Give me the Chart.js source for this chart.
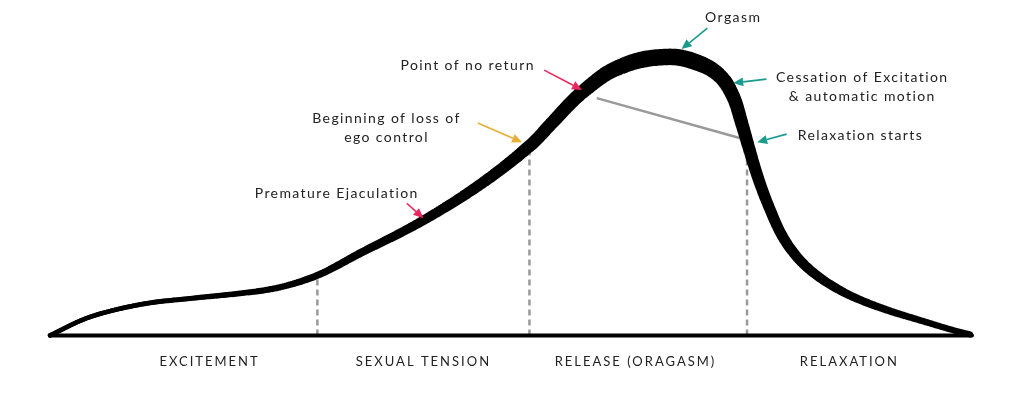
<!DOCTYPE html>
<html>
<head>
<meta charset="utf-8">
<script src="https://cdn.jsdelivr.net/npm/chart.js@4.4.1/dist/chart.umd.min.js"></script>
<style>
  html, body { margin: 0; padding: 0; background: #fff; }
  #wrap { width: 1024px; height: 408px; }
</style>
</head>
<body>
<div id="wrap"><canvas id="curva"></canvas></div>
<script>
// Fases (etiquetas del eje x) y dónde van centradas
const FASES = ['EXCITEMENT', 'SEXUAL TENSION', 'RELEASE (ORAGASM)', 'RELAXATION'];
const FASES_CENTRO = [17.3, 40.5, 63.5, 86.7];

// Límites entre fases: x del límite y altura de la curva en ese punto
const LIMITES_X = [29, 52, 75.6];
const LIMITES_Y = [20, 62, 65];

// Curva de respuesta: tiempo (0-100) vs intensidad (0-100)
const CURVA_X = [0, 4.3, 9.8, 15.2, 20.6, 24.9, 29, 33.6, 40.5, 47, 52.1, 54.6, 57.8, 61.8, 66.9, 70.5, 72.7, 74.1, 75.05, 75.9, 76.9, 78.0, 79.7, 82.1, 85.7, 90, 94.4, 98, 99.8];
const CURVA_Y = [0, 6.1, 10.3, 12.3, 14, 16, 20, 27.3, 38.3, 51, 63.3, 71.3, 81.2, 89.4, 92.7, 90.5, 86.3, 79.7, 70.7, 61.7, 51.7, 42.7, 31.7, 22.7, 15, 9.3, 5, 1.7, 0.3];

// Recta gris "punto de no retorno" -> "comienza la relajación"
const ATAJO_X = [59.3, 74.8];
const ATAJO_Y = [79, 65.7];

const TEAL = '#1a9b8e';
const ROSA = '#e8285e';
const ORO = '#e8ae3a';
const TEXTO = '#222';

// Anotaciones (en unidades de los ejes): texto + flecha desde/hasta
const ANOTACIONES = [
  { lineas: ['Orgasm'], x: 74.1, y: 105.7, desde: [71.3, 102.3], hasta: [68.5, 95.3], color: TEAL },
  { lineas: ['Cessation of Excitation', '& automatic motion'], x: 88.1, y: 86, desde: [77.7, 85.3], hasta: [74.1, 84], color: TEAL },
  { lineas: ['Relaxation starts'], x: 87.9, y: 66.7, desde: [79.9, 67], hasta: [76.7, 64.3], color: TEAL },
  { lineas: ['Point of no return'], x: 45.3, y: 90, desde: [53.6, 88.3], hasta: [57.7, 81.7], color: ROSA },
  { lineas: ['Beginning of loss of', 'ego control'], x: 36.5, y: 72.3, desde: [46.4, 70.7], hasta: [51.2, 64.3], color: ORO },
  { lineas: ['Premature Ejaculation'], x: 31.1, y: 47.3, desde: [38.7, 44], hasta: [40.5, 39], color: ROSA },
];

// Grosor del trazo según x (más grueso cerca del orgasmo)
const GROSOR = [[0, 4.5], [15, 5], [29, 7], [40, 9.5], [50, 12], [58, 14], [64, 16.5], [70, 16.5], [74, 14], [77, 11.5], [82, 10], [88, 8], [95, 6.5], [100, 6]];
function grosorEn(x) {
  if (x <= GROSOR[0][0]) return GROSOR[0][1];
  for (let i = 1; i < GROSOR.length; i++) {
    const [x0, w0] = GROSOR[i - 1];
    const [x1, w1] = GROSOR[i];
    if (x <= x1) return w0 + (w1 - w0) * (x - x0) / (x1 - x0);
  }
  return GROSOR[GROSOR.length - 1][1];
}

const zip = (xs, ys) => xs.map((x, i) => ({ x, y: ys[i] }));

const datasets = [
  {
    label: 'curva',
    data: zip(CURVA_X, CURVA_Y),
    borderColor: '#000',
    borderWidth: 4.5,
    borderCapStyle: 'round',
    borderJoinStyle: 'round',
    tension: 0.4,
    pointRadius: 0,
    clip: false,
    order: 0,
  },
  {
    label: 'base',
    data: [{ x: 0, y: 0 }, { x: 100, y: 0 }],
    borderColor: '#000',
    borderWidth: 4,
    borderCapStyle: 'round',
    pointRadius: 0,
    clip: false,
    order: 1,
  },
  {
    label: 'atajo',
    data: zip(ATAJO_X, ATAJO_Y),
    borderColor: '#999',
    borderWidth: 2.5,
    pointRadius: 0,
    clip: false,
    order: 2,
  },
];

LIMITES_X.forEach((x, i) => {
  datasets.push({
    label: 'limite' + i,
    data: [{ x, y: 0 }, { x, y: LIMITES_Y[i] }],
    borderColor: '#9a9a9a',
    borderWidth: 2.5,
    borderDash: [6, 4],
    pointRadius: 0,
    clip: false,
    order: 3,
  });
});

// Re-traza la curva del dataset 0 en franjas verticales finas, cada una
// con su propio grosor, para que el trazo engorde de a poco.
const grosor = {
  id: 'grosor',
  afterDatasetsDraw(chart) {
    const { ctx, scales, height } = chart;
    const linea = chart.getDatasetMeta(0).dataset;
    const paso = 2;
    const desde = Math.floor(scales.x.left) - 12;
    const hasta = Math.ceil(scales.x.right) + 12;
    ctx.save();
    ctx.strokeStyle = '#000';
    ctx.lineCap = 'round';
    ctx.lineJoin = 'round';
    for (let bx = desde; bx < hasta; bx += paso) {
      ctx.save();
      ctx.beginPath();
      ctx.rect(bx, 0, paso, height);
      ctx.clip();
      ctx.lineWidth = grosorEn(scales.x.getValueForPixel(bx + paso / 2));
      ctx.beginPath();
      linea.path(ctx);
      ctx.stroke();
      ctx.restore();
    }
    ctx.restore();
  },
};

function flecha(ctx, x0, y0, x1, y1, color) {
  const ang = Math.atan2(y1 - y0, x1 - x0);
  const largo = 10, ancho = 4.5;
  const bx = x1 - Math.cos(ang) * largo;
  const by = y1 - Math.sin(ang) * largo;
  ctx.strokeStyle = color;
  ctx.fillStyle = color;
  ctx.lineWidth = 1.6;
  ctx.beginPath();
  ctx.moveTo(x0, y0);
  ctx.lineTo(bx, by);
  ctx.stroke();
  ctx.beginPath();
  ctx.moveTo(x1, y1);
  ctx.lineTo(bx + Math.sin(ang) * ancho, by - Math.cos(ang) * ancho);
  ctx.lineTo(bx - Math.sin(ang) * ancho, by + Math.cos(ang) * ancho);
  ctx.closePath();
  ctx.fill();
}

const espaciado = {
  id: 'espaciado',
  beforeDraw(chart) { chart.ctx.letterSpacing = '2px'; },
};

const anotaciones = {
  id: 'anotaciones',
  afterDatasetsDraw(chart) {
    const { ctx, scales } = chart;
    const px = (v) => scales.x.getPixelForValue(v);
    const py = (v) => scales.y.getPixelForValue(v);
    ctx.save();
    ctx.letterSpacing = '1.4px';
    ctx.font = '14px Lato, sans-serif';
    ctx.textAlign = 'center';
    ctx.textBaseline = 'middle';
    for (const a of ANOTACIONES) {
      ctx.fillStyle = TEXTO;
      a.lineas.forEach((t, i) => ctx.fillText(t, px(a.x), py(a.y) + i * 19));
      flecha(ctx, px(a.desde[0]), py(a.desde[1]), px(a.hasta[0]), py(a.hasta[1]), a.color);
    }
    ctx.restore();
  },
};

new Chart(document.getElementById('curva'), {
  type: 'line',
  data: { datasets },
  options: {
    responsive: true,
    maintainAspectRatio: false,
    animation: false,
    layout: { padding: { left: 50, right: 52, top: 35, bottom: 19 } },
    plugins: { legend: { display: false }, tooltip: { enabled: false } },
    scales: {
      x: {
        type: 'linear',
        min: 0,
        max: 100,
        grid: { display: false, drawTicks: false },
        border: { display: false },
        afterBuildTicks: (scale) => { scale.ticks = FASES_CENTRO.map((value) => ({ value })); },
        ticks: {
          autoSkip: false,
          maxRotation: 0,
          padding: 19,
          color: TEXTO,
          font: { family: 'Lato, sans-serif', size: 13 },
          callback: (value, i) => FASES[i],
        },
      },
      y: { display: false, min: 0, max: 100 },
    },
  },
  plugins: [espaciado, grosor, anotaciones],
});
</script>
</body>
</html>
